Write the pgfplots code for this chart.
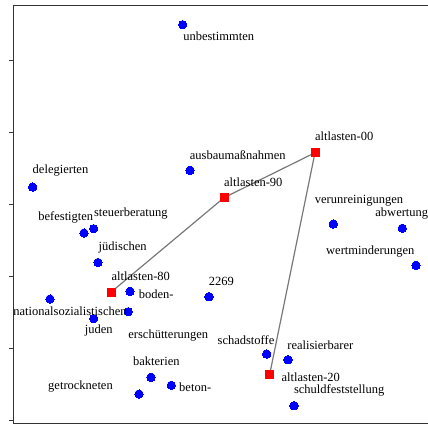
\documentclass[border=0pt]{standalone}
\usepackage{pgfplots}
\usepackage{pgfplotstable}
\pgfplotsset{compat=1.18}
\usepackage{fontspec}
\setmainfont{Liberation Serif}

\definecolor{dotblue}{RGB}{0,0,255}
\definecolor{sqred}{RGB}{255,0,0}
\definecolor{pathgray}{RGB}{120,120,120}

% word positions (blue points)
\pgfplotstableread{
x y
182.7 24.7
190.0 170.3
32.7 187.0
84.0 233.0
93.7 228.7
98.0 262.5
50.0 299.0
130.0 291.3
128.3 311.7
93.7 318.7
209.0 296.7
151.0 377.3
171.3 385.3
139.0 394.0
333.3 224.0
402.3 228.3
416.0 265.3
266.7 354.0
288.0 359.7
294.0 405.7
}\words

% time slices of the target word (red squares, joined in order)
\pgfplotstableread{
x y
111.2 292.0
224.0 197.7
315.0 152.7
269.7 374.3
}\slices

% label positions
\pgfplotstableread{
x y label
218.7 35.0 unbestimmten
237.8 154.5 ausbaumaßnahmen
60.5 170.0 delegierten
65.8 216.7 befestigten
130.8 212.7 steuerberatung
122.7 246.7 jüdischen
156.3 293.3 boden-
70.0 310.0 nationalsozialistischen
98.7 329.3 juden
168.3 335.0 erschütterungen
221.3 280.7 2269
156.3 360.0 bakterien
195.2 386.7 beton-
80.5 386.0 getrockneten
359.0 200.0 verunreinigungen
401.8 212.3 abwertung
370.3 250.7 wertminderungen
246.0 338.7 schadstoffe
320.3 344.3 realisierbarer
339.2 389.3 schuldfeststellung
140.8 275.0 altlasten-80
253.3 181.0 altlasten-90
344.2 135.7 altlasten-00
310.8 376.0 altlasten-20
}\labels

\begin{document}
\begin{tikzpicture}
\path[use as bounding box] (-13pt,-2pt) rectangle (415pt,423pt);
\begin{axis}[
  x=1pt, y=1pt, y dir=reverse,
  scale only axis,
  xmin=13, xmax=430, ymin=5, ymax=423,
  axis line style={black!80, line width=0.8pt},
  xtick=\empty,
  ytick={60.5,132.3,204.3,276.3,348,420.3},
  yticklabels={},
  tick align=outside,
  major tick length=4pt,
  tick style={black!80, line width=0.8pt},
  clip=false,
]
\addplot[draw=pathgray, line width=1.2pt, mark=none] table {\slices};
\addplot[only marks, mark=*, mark size=4.2pt,
  mark options={draw=dotblue, fill=dotblue, line width=0pt}] table {\words};
\addplot[only marks, mark=square*, mark size=4pt,
  mark options={draw=sqred, fill=sqred, line width=0pt}] table {\slices};
\addplot[draw=none, nodes near coords, point meta=explicit symbolic,
  nodes near coords style={anchor=center, inner sep=0pt, yshift=-1pt,
    font=\fontsize{12.5}{14}\selectfont, text=black}]
  table[meta=label] {\labels};
\end{axis}
\end{tikzpicture}
\end{document}
